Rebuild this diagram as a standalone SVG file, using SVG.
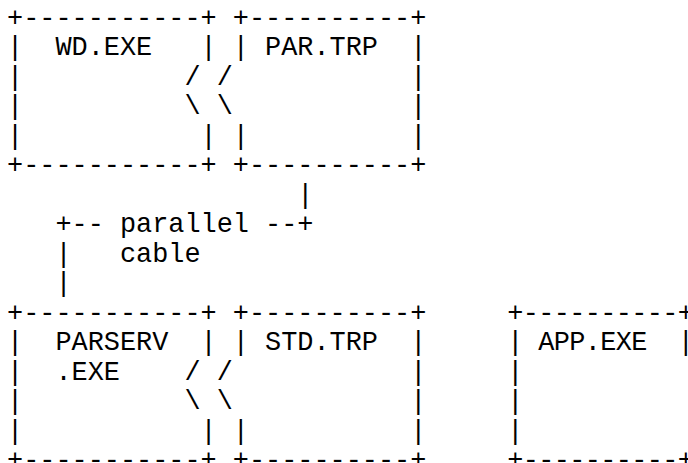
<svg xmlns="http://www.w3.org/2000/svg" width="688" height="463" viewBox="0 0 688 463" xml:space="preserve">
<style>
text { font-family: "Liberation Mono", "Courier New", monospace; font-size: 26.88px; fill: #000; white-space: pre; }
</style>
<rect width="688" height="463" fill="#fff"/>
<g id="node-wd-exe">
<text x="7" y="25.5">+-----------+</text>
<text x="7" y="55">|  WD.EXE   |</text>
<text x="7" y="84.5">|</text>
<text x="7" y="114">|</text>
<text x="7" y="143.5">|           |</text>
<text x="7" y="173">+-----------+</text>
</g>
<g id="node-par-trp">
<text x="232.82" y="25.5">+----------+</text>
<text x="232.82" y="55">| PAR.TRP  |</text>
<text x="410.25" y="84.5">|</text>
<text x="410.25" y="114">|</text>
<text x="232.82" y="143.5">|          |</text>
<text x="232.82" y="173">+----------+</text>
</g>
<g id="node-parserv-exe">
<text x="7" y="320.5">+-----------+</text>
<text x="7" y="350">|  PARSERV  |</text>
<text x="7" y="379.5">|  .EXE</text>
<text x="7" y="409">|</text>
<text x="7" y="438.5">|           |</text>
<text x="7" y="468">+-----------+</text>
</g>
<g id="node-std-trp">
<text x="232.82" y="320.5">+----------+</text>
<text x="232.82" y="350">| STD.TRP  |</text>
<text x="410.25" y="379.5">|</text>
<text x="410.25" y="409">|</text>
<text x="232.82" y="438.5">|          |</text>
<text x="232.82" y="468">+----------+</text>
</g>
<g id="node-app-exe">
<text x="507.2" y="320.5" textLength="186.6" lengthAdjust="spacing">+----------+</text>
<text x="507.2" y="350" textLength="186.6" lengthAdjust="spacing">| APP.EXE  |</text>
<text x="507.2" y="379.5">|</text>
<text x="507.2" y="409">|</text>
<text x="507.2" y="438.5">|</text>
<text x="507.2" y="468" textLength="186.6" lengthAdjust="spacing">+----------+</text>
</g>
<g id="connectors">
<text x="184.43" y="84.5">/ /</text>
<text x="184.43" y="114">\ \</text>
<text x="297.34" y="202.5">|</text>
<text x="55.39" y="232">+-- parallel --+</text>
<text x="55.39" y="261.5">|   cable</text>
<text x="55.39" y="291">|</text>
<text x="184.43" y="379.5">/ /</text>
<text x="184.43" y="409">\ \</text>
</g>
</svg>
